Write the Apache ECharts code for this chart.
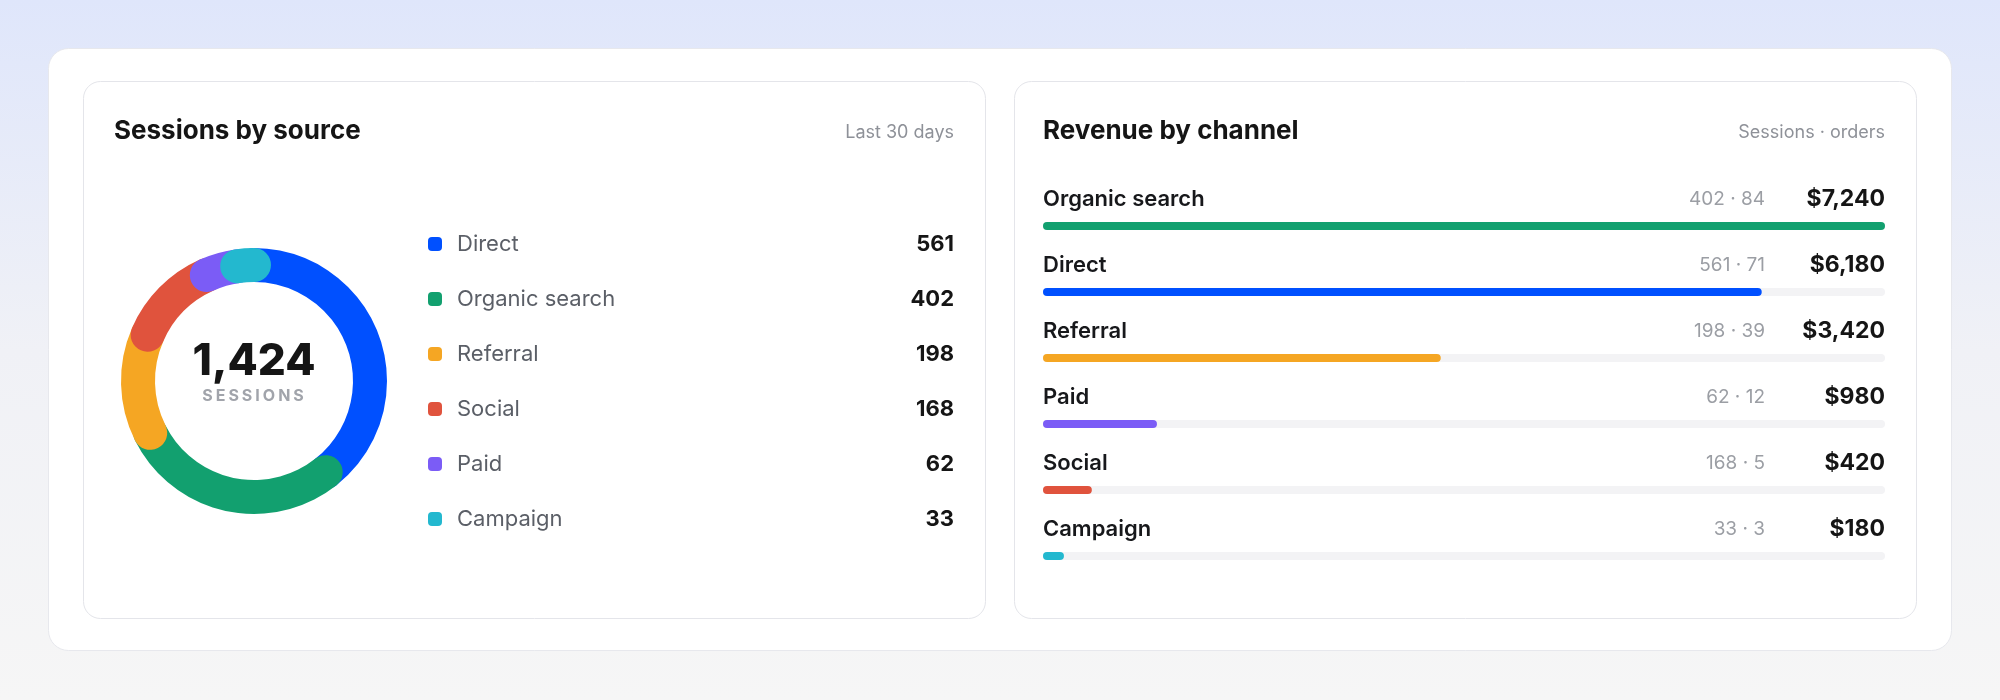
<!DOCTYPE html>
<html>
<head>
<meta charset="utf-8">
<title>Sessions and revenue</title>
<script src="https://cdn.jsdelivr.net/npm/echarts@6.0.0/dist/echarts.min.js"></script>
<style>
  html, body { margin: 0; padding: 0; background: #f6f6f7; }
  #chart { width: 2000px; height: 700px; }
</style>
</head>
<body>
<div id="chart"></div>
<script>
// sessions by source (left card)
const sources = ['Direct', 'Organic search', 'Referral', 'Social', 'Paid', 'Campaign'];
const sessions = [561, 402, 198, 168, 62, 33];
const sourceColors = ['#0050ff', '#12a06f', '#f5a623', '#e0533d', '#7b5cf6', '#23b8cf'];
const totalSessions = sessions.reduce((a, b) => a + b, 0);

// revenue by channel (right card)
const channels = ['Organic search', 'Direct', 'Referral', 'Paid', 'Social', 'Campaign'];
const channelSessions = [402, 561, 198, 62, 168, 33];
const channelOrders = [84, 71, 39, 12, 5, 3];
const revenue = [7240, 6180, 3420, 980, 420, 180];
const channelColors = ['#12a06f', '#0050ff', '#f5a623', '#7b5cf6', '#e0533d', '#23b8cf'];

const FONT = 'Inter, "Noto Sans", sans-serif';
const chart = echarts.init(document.getElementById('chart'));

const fmt = n => n.toLocaleString('en-US');

// spaced caps under the total (canvas text has no letter-spacing)
const spaced = s => s.split('').map(c => '{c|' + c + '}').join('');

// donut: one stacked polar bar per source, round caps overlap the next one
const donutSeries = sources.map((name, i) => ({
  name: name,
  type: 'bar',
  coordinateSystem: 'polar',
  stack: 'sessions',
  roundCap: true,
  barWidth: '100%',
  data: [sessions[i]],
  itemStyle: { color: sourceColors[i] },
  emphasis: { disabled: true },
  silent: true
}));

const option = {
  animation: false,
  textStyle: { fontFamily: FONT },
  graphic: {
    elements: [
      {
        type: 'rect', shape: { x: 0, y: 0, width: 2000, height: 700 }, silent: true,
        style: {
          fill: new echarts.graphic.LinearGradient(0, 0, 0, 1, [
            { offset: 0, color: '#dfe6fb' },
            { offset: 0.5, color: '#f0f1f6' },
            { offset: 1, color: '#f6f6f6' }
          ])
        }
      },
      {
        type: 'rect', shape: { x: 48.5, y: 48.5, width: 1903, height: 602, r: 20 }, silent: true,
        style: { fill: '#ffffff', stroke: '#e7e8ed', lineWidth: 1 }
      },
      {
        type: 'rect', shape: { x: 83.5, y: 81.5, width: 902, height: 537, r: 17 }, silent: true,
        style: { fill: '#ffffff', stroke: '#e4e5ea', lineWidth: 1 }
      },
      {
        type: 'rect', shape: { x: 1014.5, y: 81.5, width: 902, height: 537, r: 17 }, silent: true,
        style: { fill: '#ffffff', stroke: '#e4e5ea', lineWidth: 1 }
      },
      {
        type: 'text', x: 254, y: 362, silent: true,
        style: {
          text: fmt(totalSessions), fill: '#151515', font: '800 44px ' + FONT,
          textAlign: 'center', textVerticalAlign: 'middle'
        }
      },
      {
        type: 'text', x: 253, y: 396, silent: true,
        style: {
          text: spaced('SESSIONS'),
          textAlign: 'center', textVerticalAlign: 'middle',
          rich: {
            c: { fill: '#a1a4ab', fontFamily: FONT, fontSize: 16, fontWeight: 700, padding: [0, 1.5, 0, 1.5] }
          }
        }
      }
    ]
  },
  title: [
    {
      text: 'Sessions by source', left: 114, top: 116, padding: 0,
      textStyle: { fontFamily: FONT, fontSize: 26, fontWeight: 700, color: '#151515', lineHeight: 30 }
    },
    {
      text: 'Last 30 days', right: 2000 - 954, top: 122, padding: 0,
      textStyle: { fontFamily: FONT, fontSize: 18, fontWeight: 400, color: '#8e9198', lineHeight: 22 }
    },
    {
      text: 'Revenue by channel', left: 1043, top: 116, padding: 0,
      textStyle: { fontFamily: FONT, fontSize: 26, fontWeight: 700, color: '#151515', lineHeight: 30 }
    },
    {
      text: 'Sessions · orders', right: 2000 - 1885, top: 122, padding: 0,
      textStyle: { fontFamily: FONT, fontSize: 18, fontWeight: 400, color: '#8e9198', lineHeight: 22 }
    }
  ],
  legend: {
    data: sources,
    orient: 'vertical',
    left: 428,
    top: 233,
    padding: 0,
    itemGap: 33,
    itemWidth: 14,
    itemHeight: 14,
    icon: 'path://M4,0 H10 A4,4 0 0 1 14,4 V10 A4,4 0 0 1 10,14 H4 A4,4 0 0 1 0,10 V4 A4,4 0 0 1 4,0 Z',
    selectedMode: false,
    formatter: name => '{g|}{n|' + name + '}{v|' + fmt(sessions[sources.indexOf(name)]) + '}',
    textStyle: {
      rich: {
        g: { width: 10, lineHeight: 24 },
        n: { width: 400, fontSize: 22, color: '#5b5f67', fontFamily: FONT, lineHeight: 24 },
        v: { width: 97, align: 'right', fontSize: 22, fontWeight: 700, color: '#151515', fontFamily: FONT, lineHeight: 24 }
      }
    }
  },
  polar: { center: [254, 381], radius: [99, 133] },
  angleAxis: { type: 'value', min: 0, max: totalSessions, startAngle: 90, clockwise: true, show: false },
  radiusAxis: { type: 'category', data: ['sessions'], show: false },
  grid: { left: 1043, top: 193, width: 842, height: 396, containLabel: false },
  xAxis: { type: 'value', min: 0, max: Math.max(...revenue), show: false },
  yAxis: {
    type: 'category',
    data: channels,
    inverse: true,
    axisLine: { show: false },
    axisTick: { show: false },
    splitLine: { show: false },
    axisLabel: {
      inside: true,
      margin: 0,
      align: 'left',
      verticalAlign: 'bottom',
      padding: [0, 0, 15, 0],
      formatter: (value, i) =>
        '{n|' + value + '}{s|' + channelSessions[i] + ' · ' + channelOrders[i] + '}{v|$' + fmt(revenue[i]) + '}',
      rich: {
        n: { width: 522, fontSize: 22, fontWeight: 600, color: '#17181b', fontFamily: FONT, lineHeight: 24 },
        s: { width: 200, align: 'right', fontSize: 19, color: '#9b9ea4', fontFamily: FONT, lineHeight: 24 },
        v: { width: 120, align: 'right', fontSize: 23, fontWeight: 700, color: '#151515', fontFamily: FONT, lineHeight: 24 }
      }
    }
  },
  series: donutSeries.concat([
    {
      name: 'Revenue',
      type: 'bar',
      barWidth: 8,
      showBackground: true,
      backgroundStyle: { color: '#f3f3f5', borderRadius: 4 },
      data: revenue.map((v, i) => ({ value: v, itemStyle: { color: channelColors[i], borderRadius: 4 } })),
      emphasis: { disabled: true },
      silent: true
    }
  ])
};

chart.setOption(option);
</script>
</body>
</html>
